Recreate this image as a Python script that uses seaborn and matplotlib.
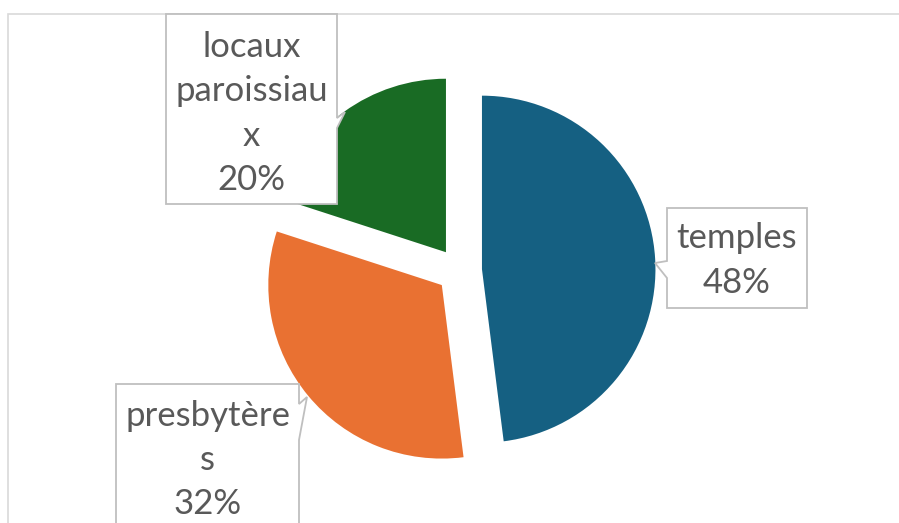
import matplotlib
matplotlib.use("Agg")
import matplotlib.pyplot as plt
import seaborn as sns
from matplotlib.patches import Polygon, Rectangle

# data
categories = ["temples", "presbytères", "locaux paroissiaux"]
label_lines = ["temples", "presbytère\ns", "locaux\nparoissiau\nx"]
values = [48, 32, 20]
colors = ["#156082", "#E97132", "#196B24"]

sns.set_style("white")
plt.rcParams["font.family"] = ["Lato", "DejaVu Sans"]

W, H = 899, 523
fig = plt.figure(figsize=(W / 100, H / 100), dpi=100)
ax = fig.add_axes([0, 0, 1, 1])

def py(y):
    # convert image pixel row to axis coordinate
    return H - y

radius = 173.5
# explode is in data units here (pixels)
ax.pie(values, colors=sns.color_palette(colors), startangle=90, counterclock=False,
       radius=radius, center=(459.3, py(270.6)), explode=[22.7] * 3,
       wedgeprops=dict(linewidth=0))

ax.set_xlim(0, W)
ax.set_ylim(0, H)
ax.set_aspect("equal")
ax.axis("off")

# chart area frame
ax.add_patch(Rectangle((8, py(600)), 1000, 600 - 14, fill=False,
                       edgecolor="#D9D9D9", linewidth=1.2, zorder=0))

total = sum(values)
pcts = [f"{round(v / total * 100)}%" for v in values]

# callout boxes: outline polygons in pixel coords
boxes = [
    # temples
    [(667, 208), (807, 208), (807, 308), (667, 308), (667, 278), (655, 263), (667, 261)],
    # presbytères
    [(116, 384), (299, 384), (299, 404), (307, 397), (299, 440), (299, 540), (116, 540)],
    # locaux
    [(166, 14), (337, 14), (337, 118), (345, 112), (337, 128), (337, 204), (166, 204)],
]
centers = [(737, 260.5), (207.5, 460), (251.5, 113.5)]

for lab, pct, poly, (cx, cy) in zip(label_lines, pcts, boxes, centers):
    ax.add_patch(Polygon([(x, py(y)) for x, y in poly], closed=True,
                         facecolor="white", edgecolor="#BFBFBF", linewidth=1.3, zorder=3))
    ax.text(cx, py(cy), f"{lab}\n{pct}", ha="center", va="center", fontsize=25,
            color="#595959", linespacing=1.48, zorder=4)

fig.savefig("out.png", dpi=100)
